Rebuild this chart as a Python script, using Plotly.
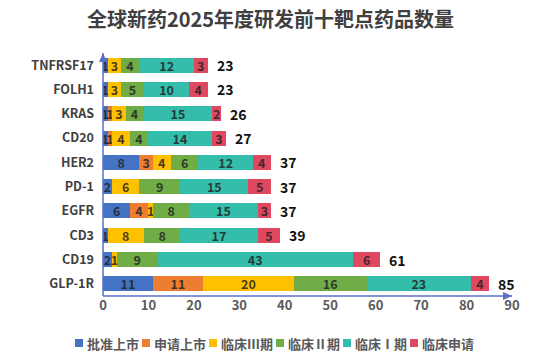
import plotly.graph_objects as go

targets = ["GLP-1R", "CD19", "CD3", "EGFR", "PD-1", "HER2", "CD20", "KRAS", "FOLH1", "TNFRSF17"]
series_names = ["批准上市", "申请上市", "临床Ⅲ期", "临床Ⅱ期", "临床Ⅰ期", "临床申请"]
approved   = [11, 2, 1, 6, 2, 8, 1, 1, 1, 1]
filed      = [11, 0, 0, 4, 0, 3, 1, 1, 0, 0]
phase3     = [20, 1, 8, 1, 6, 4, 4, 3, 3, 3]
phase2     = [16, 9, 8, 8, 9, 6, 4, 4, 5, 4]
phase1     = [23, 43, 17, 15, 15, 12, 14, 15, 10, 12]
ind        = [4, 6, 5, 3, 5, 4, 3, 2, 4, 3]
colors = ["#4472C4", "#ED7D31", "#FFC000", "#70AD47", "#33BDAA", "#E0485F"]
x_ticks = [0, 10, 20, 30, 40, 50, 60, 70, 80, 90]

FONT = "Noto Sans CJK SC"
W, H = 541, 357
L, R, T, B = 103, 29, 53, 61
values = [approved, filed, phase3, phase2, phase1, ind]
totals = [sum(v) for v in zip(*values)]

fig = go.Figure()
for name, vals, col in zip(series_names, values, colors):
    fig.add_trace(go.Bar(
        y=targets, x=vals, name=name, orientation="h",
        marker=dict(color=col, line=dict(width=0)),
        text=[str(v) for v in vals], textposition="inside",
        insidetextanchor="middle", constraintext="none",
        textangle=0,
        textfont=dict(family=FONT, size=12.5, color="rgba(35,35,35,0.85)", weight="bold"),
        hoverinfo="skip", showlegend=False,
    ))

for t, tot in zip(targets, totals):
    fig.add_annotation(x=tot, y=t, xref="x", yref="y", text=str(tot), showarrow=False,
                       xanchor="left", yanchor="middle", xshift=7,
                       font=dict(family=FONT, size=14, color="#111111", weight="bold"))

# custom legend row (square marker + label)
pw = W - L - R
ph = H - T - B
leg_y_px = 343
start_px = 75
step_px = 67
for i, (name, col) in enumerate(zip(series_names, colors)):
    x0 = start_px + i * step_px
    fx0 = (x0 - L) / pw
    fx1 = (x0 + 8 - L) / pw
    fy0 = (H - B - (leg_y_px + 4)) / ph
    fy1 = (H - B - (leg_y_px - 4)) / ph
    fig.add_shape(type="rect", xref="x domain", yref="y domain",
                  x0=fx0, x1=fx1, y0=fy0, y1=fy1,
                  fillcolor=col, line=dict(width=0))
    fig.add_annotation(xref="x domain", yref="y domain", x=(x0 + 10 - L) / pw,
                       y=(H - B - leg_y_px) / ph, text=name, showarrow=False,
                       xanchor="left", yanchor="middle",
                       font=dict(family=FONT, size=13, color="#595959", weight="bold"))

# axes lines with arrowheads
axis_col = "#5B6FC9"
fig.add_shape(type="line", xref="x domain", yref="y domain", x0=0, x1=1, y0=0, y1=0,
              line=dict(color=axis_col, width=1.5))
fig.add_shape(type="line", xref="x domain", yref="y domain", x0=0, x1=0, y0=0, y1=1,
              line=dict(color=axis_col, width=1.5))
fig.add_shape(type="path", xref="x domain", yref="y domain",
              xsizemode="pixel", ysizemode="pixel", xanchor=1, yanchor=0,
              path="M -9,-4 L 0,0 L -9,4 Z", fillcolor=axis_col, line=dict(width=0))
fig.add_shape(type="path", xref="x domain", yref="y domain",
              xsizemode="pixel", ysizemode="pixel", xanchor=0, yanchor=1,
              path="M -4,-9 L 0,0 L 4,-9 Z", fillcolor=axis_col, line=dict(width=0))

fig.update_layout(
    width=W, height=H,
    barmode="stack", bargap=0.38,
    paper_bgcolor="white", plot_bgcolor="white",
    margin=dict(l=L, r=R, t=T, b=B),
    showlegend=False,
    title=dict(text="全球新药2025年度研发前十靶点药品数量", x=0.5, xanchor="center",
               y=0.945, yanchor="middle",
               font=dict(family=FONT, size=20, color="#404040", weight="bold")),
    xaxis=dict(range=[0, 90], tickvals=x_ticks, showgrid=False, zeroline=False,
               showline=False, ticks="", automargin=False,
               tickfont=dict(family=FONT, size=13, color="#595959", weight="bold")),
    yaxis=dict(showgrid=False, zeroline=False, showline=False, ticks="",
               ticklabelstandoff=8, automargin=False,
               tickfont=dict(family=FONT, size=12.5, color="#404040", weight="bold")),
)

fig.write_html("out.html", config={"displayModeBar": False},
               post_script="document.body.style.margin='0px';document.body.style.overflow='hidden';")
